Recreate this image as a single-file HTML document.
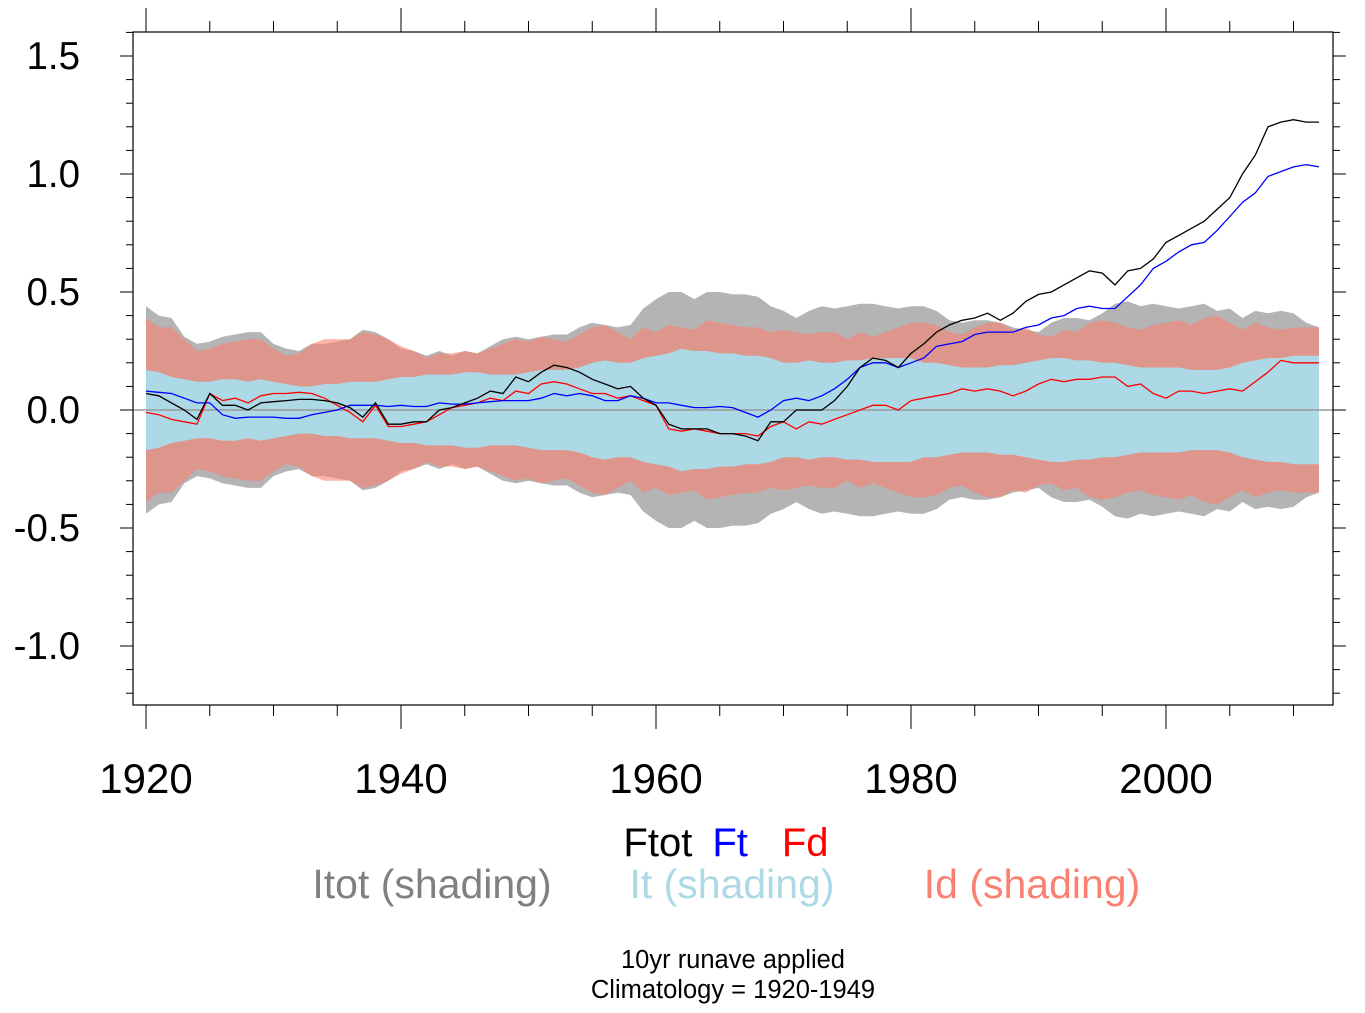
<!DOCTYPE html>
<html><head><meta charset="utf-8"><style>
html,body{margin:0;padding:0;background:#fff;}
svg{display:block;font-family:"Liberation Sans",Arial,sans-serif;}
</style></head><body>
<svg id="chart" width="1365" height="1013" viewBox="0 0 1365 1013">
<g id="plot"></g>
<text x="726" y="856" font-size="40" text-anchor="middle"><tspan fill="#000">Ftot</tspan><tspan fill="#0000ff" dx="20">Ft</tspan><tspan fill="#ff0000" dx="34">Fd</tspan></text>
<text x="432" y="898" font-size="41" fill="#808080" text-anchor="middle">Itot (shading)</text>
<text x="732" y="898" font-size="41" fill="#add8e6" text-anchor="middle">It (shading)</text>
<text x="1032" y="898" font-size="41" fill="#fa8072" text-anchor="middle">Id (shading)</text>
<text x="733" y="968" font-size="25.5" text-anchor="middle">10yr runave applied</text>
<text x="733" y="998" font-size="25.5" text-anchor="middle">Climatology = 1920-1949</text>
</svg>
<script>
const startYear = 1920;
const ftot = [0.07,0.06,0.03,0.0,-0.04,0.07,0.02,0.02,0.0,0.03,0.035,0.04,0.045,0.045,0.04,0.03,0.01,-0.03,0.03,-0.06,-0.06,-0.05,-0.05,0.0,0.01,0.03,0.05,0.08,0.07,0.14,0.12,0.16,0.19,0.18,0.16,0.13,0.11,0.09,0.1,0.05,0.02,-0.06,-0.08,-0.08,-0.08,-0.1,-0.1,-0.11,-0.13,-0.05,-0.05,0.0,0.0,0.0,0.04,0.1,0.18,0.22,0.21,0.18,0.24,0.28,0.33,0.36,0.38,0.39,0.41,0.38,0.41,0.46,0.49,0.5,0.53,0.56,0.59,0.58,0.53,0.59,0.6,0.64,0.71,0.74,0.77,0.8,0.85,0.9,1.0,1.08,1.2,1.22,1.23,1.22,1.22];
const ft = [0.08,0.075,0.07,0.05,0.03,0.03,-0.02,-0.035,-0.03,-0.03,-0.03,-0.035,-0.035,-0.02,-0.01,0.0,0.02,0.02,0.02,0.015,0.02,0.015,0.015,0.03,0.025,0.025,0.03,0.035,0.04,0.04,0.04,0.05,0.07,0.06,0.07,0.06,0.04,0.04,0.06,0.05,0.03,0.03,0.02,0.01,0.01,0.015,0.01,-0.01,-0.03,0.0,0.04,0.05,0.04,0.06,0.09,0.13,0.18,0.2,0.2,0.18,0.2,0.22,0.27,0.28,0.29,0.32,0.33,0.33,0.33,0.35,0.36,0.39,0.4,0.43,0.44,0.43,0.43,0.48,0.53,0.6,0.63,0.67,0.7,0.71,0.76,0.82,0.88,0.92,0.99,1.01,1.03,1.04,1.03];
const fd = [-0.01,-0.02,-0.04,-0.05,-0.06,0.07,0.04,0.05,0.03,0.06,0.07,0.07,0.075,0.07,0.05,0.02,-0.01,-0.05,0.02,-0.07,-0.07,-0.06,-0.05,-0.02,0.01,0.02,0.03,0.05,0.04,0.08,0.07,0.11,0.12,0.11,0.09,0.07,0.07,0.05,0.06,0.04,0.02,-0.08,-0.09,-0.08,-0.09,-0.1,-0.1,-0.1,-0.11,-0.07,-0.05,-0.08,-0.05,-0.06,-0.04,-0.02,0.0,0.02,0.02,0.0,0.04,0.05,0.06,0.07,0.09,0.08,0.09,0.08,0.06,0.08,0.11,0.13,0.12,0.13,0.13,0.14,0.14,0.1,0.11,0.07,0.05,0.08,0.08,0.07,0.08,0.09,0.08,0.12,0.16,0.21,0.2,0.2,0.2];
const itot = [0.44,0.4,0.39,0.31,0.28,0.29,0.31,0.32,0.33,0.33,0.28,0.26,0.25,0.28,0.28,0.29,0.3,0.34,0.33,0.3,0.26,0.25,0.23,0.25,0.23,0.25,0.24,0.27,0.3,0.31,0.3,0.31,0.32,0.32,0.35,0.37,0.36,0.35,0.36,0.43,0.47,0.5,0.5,0.47,0.5,0.5,0.49,0.49,0.48,0.44,0.42,0.39,0.42,0.44,0.43,0.44,0.45,0.45,0.44,0.43,0.44,0.44,0.42,0.38,0.37,0.38,0.38,0.37,0.35,0.34,0.33,0.37,0.39,0.39,0.38,0.41,0.45,0.46,0.44,0.45,0.44,0.43,0.44,0.45,0.42,0.43,0.39,0.42,0.41,0.42,0.41,0.37,0.35];
const id = [0.39,0.35,0.35,0.3,0.25,0.26,0.28,0.29,0.3,0.3,0.26,0.23,0.24,0.28,0.3,0.3,0.3,0.33,0.32,0.3,0.27,0.25,0.22,0.24,0.24,0.25,0.24,0.26,0.28,0.3,0.29,0.31,0.3,0.29,0.32,0.35,0.36,0.33,0.3,0.35,0.33,0.36,0.35,0.34,0.38,0.37,0.36,0.35,0.35,0.33,0.34,0.33,0.32,0.33,0.33,0.3,0.33,0.31,0.33,0.35,0.37,0.37,0.36,0.33,0.32,0.35,0.37,0.37,0.34,0.35,0.32,0.31,0.34,0.33,0.37,0.38,0.37,0.35,0.34,0.36,0.37,0.38,0.36,0.39,0.4,0.37,0.34,0.37,0.35,0.34,0.35,0.35,0.35];
const it = [0.17,0.16,0.14,0.13,0.12,0.12,0.13,0.13,0.12,0.13,0.12,0.11,0.1,0.1,0.11,0.11,0.12,0.12,0.12,0.13,0.14,0.14,0.15,0.15,0.15,0.16,0.16,0.15,0.15,0.15,0.16,0.17,0.17,0.17,0.18,0.2,0.21,0.2,0.2,0.22,0.23,0.24,0.26,0.25,0.25,0.24,0.24,0.23,0.23,0.22,0.2,0.2,0.21,0.2,0.2,0.21,0.21,0.22,0.22,0.22,0.22,0.2,0.2,0.19,0.18,0.18,0.18,0.19,0.19,0.2,0.21,0.22,0.22,0.21,0.21,0.2,0.2,0.19,0.18,0.18,0.18,0.18,0.17,0.17,0.17,0.18,0.2,0.21,0.22,0.22,0.23,0.23,0.23];
const yTicks = [-1.0,-0.5,0.0,0.5,1.0,1.5];
const yTickLabels = ["-1.0","-0.5","0.0","0.5","1.0","1.5"];
const xTicks = [1920,1940,1960,1980,2000];

const NS = "http://www.w3.org/2000/svg";
const L=133,R=1333,T=32,B=705;
const xs = yr => 146 + (yr-1920)*12.75;
const ys = v => 410 - v*236;
const g = document.getElementById('plot');
function mk(tag, attrs){const e=document.createElementNS(NS,tag);for(const k in attrs)e.setAttribute(k,attrs[k]);g.appendChild(e);return e;}
function band(arr,fill,op,name){
  const n=arr.length;let d='';
  for(let i=0;i<n;i++)d+=(i?'L':'M')+xs(startYear+i).toFixed(1)+','+ys(arr[i]).toFixed(1);
  for(let i=n-1;i>=0;i--)d+='L'+xs(startYear+i).toFixed(1)+','+ys(-arr[i]).toFixed(1);
  const p=mk('path',{d:d+'Z',fill:fill,'fill-opacity':op});
  
  
}
function line(arr,stroke,name){
  let d='';arr.forEach((v,i)=>{d+=(i?'L':'M')+xs(startYear+i).toFixed(1)+','+ys(v).toFixed(1);});
  const p=mk('path',{d:d,fill:'none',stroke:stroke,'stroke-width':1.3});
  
  
}
band(itot,'#b4b4b4',1,'itot-shading');
band(id,'#fa8072',0.6,'id-shading');
band(it,'#add8e6',1,'it-shading');
const z=mk('line',{x1:L,x2:R,y1:ys(0),y2:ys(0),stroke:'#999','stroke-width':1.5});


line(fd,'#ff0000','fd-line');
line(ft,'#0000ff','ft-line');
line(ftot,'#000000','ftot-line');
const fr=mk('rect',{x:L,y:T,width:R-L,height:B-T,fill:'none',stroke:'#000','stroke-width':1.2});


for(let v=-1.2;v<=1.61;v+=0.1){
  const vv=Math.round(v*10)/10;const major=Math.abs(vv*2-Math.round(vv*2))<1e-6;
  const len=major?13:7;const y=ys(vv);
  if(y<T-1||y>B+1)continue;
  mk('line',{x1:L-len,x2:L,y1:y,y2:y,stroke:'#000','stroke-width':1});
  mk('line',{x1:R,x2:R+len,y1:y,y2:y,stroke:'#000','stroke-width':1});
}
yTicks.forEach((v,i)=>{
  const t=mk('text',{x:80,y:ys(v)+13,'font-size':38.5,'text-anchor':'end'});t.textContent=yTickLabels[i];
  
  
});
for(let yr=1920;yr<=2010;yr+=5){
  const major=yr%20===0;const len=major?24:11;const x=xs(yr);
  mk('line',{x1:x,x2:x,y1:B,y2:B+len,stroke:'#000','stroke-width':1});
  mk('line',{x1:x,x2:x,y1:T-len,y2:T,stroke:'#000','stroke-width':1});
}
xTicks.forEach(yr=>{
  const t=mk('text',{x:xs(yr),y:793,'font-size':42,'text-anchor':'middle'});t.textContent=yr;
  
  
});
</script>
</body></html>
